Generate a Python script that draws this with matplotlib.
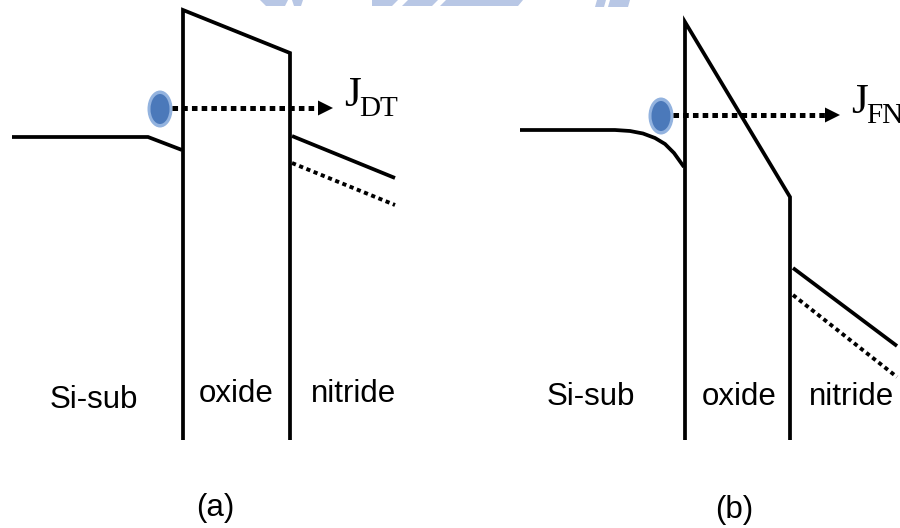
import matplotlib
matplotlib.use("Agg")
import matplotlib.pyplot as plt
from matplotlib import font_manager
from matplotlib.patches import Ellipse, Polygon

# ---- panel (a): direct tunnelling (pixel coords, y down) ----
a_si_x = [12, 148, 182]
a_si_y = [137, 137, 150]
a_ox_x = [183, 183, 290, 290]
a_ox_y = [440, 10, 53, 440]
a_cb_x = [292, 395]
a_cb_y = [136, 178]
a_dot_x = [292, 395]
a_dot_y = [163, 205]
a_electron = (160, 109)
a_arrow_x = [172, 333]
a_arrow_y = 108
a_current = ("J", "DT")

# ---- panel (b): Fowler-Nordheim tunnelling ----
b_si_x = [520, 615, 630, 643, 655, 665, 674, 684]
b_si_y = [130, 130, 131, 133.5, 138, 144, 153, 167]
b_ox_x = [685, 685, 790, 790]
b_ox_y = [440, 22, 197, 440]
b_cb_x = [793, 897]
b_cb_y = [268, 346]
b_dot_x = [793, 897]
b_dot_y = [295, 377]
b_electron = (661, 116)
b_arrow_x = [673, 840]
b_arrow_y = 115
b_current = ("J", "FN")

region_names = ["Si-sub", "oxide", "nitride"]
a_label_x = [94, 236, 354]
a_label_y = [408, 402, 402]
b_label_x = [591, 739, 852]
b_label_y = [405, 405, 405]
panel_tags = ["(a)", "(b)"]
tag_x = [215, 734]
tag_y = [516, 518]

# pick a narrow sans if there is one
names = {f.name for f in font_manager.fontManager.ttflist}
if "Liberation Sans Narrow" in names:
    sans, sans_size = "Liberation Sans Narrow", 25
else:
    sans, sans_size = "Liberation Sans", 22.5
serif = "Liberation Serif"

LW = 2.7
fig = plt.figure(figsize=(9, 5.28), dpi=100)
ax = fig.add_axes([0, 0, 1, 1])
ax.set_xlim(0, 900)
ax.set_ylim(528, 0)
ax.axis("off")

# faint watermark remnants at the top edge
wm = "#b8c7e5"
for pts in [[(260, 0), (288, 0), (285, 6), (266, 6)],
            [(292, 0), (303, 0), (301, 6), (294, 6)],
            [(372, 0), (398, 0), (392, 6), (372, 6)],
            [(408, 0), (438, 0), (432, 6), (402, 6)],
            [(446, 0), (523, 0), (518, 6), (440, 6)],
            [(597, 0), (606, 0), (604, 7), (595, 7)],
            [(610, 0), (630, 0), (628, 7), (608, 7)]]:
    ax.add_patch(Polygon(pts, closed=True, color=wm, lw=0))


def band(ax, si_x, si_y, ox_x, ox_y, cb_x, cb_y, dot_x, dot_y):
    kw = dict(color="black", lw=LW, solid_joinstyle="miter", solid_capstyle="butt")
    ax.plot(si_x, si_y, **kw)
    ax.plot(ox_x, ox_y, **kw)
    ax.plot(cb_x, cb_y, **kw)
    ax.plot(dot_x, dot_y, color="black", lw=2.8,
            linestyle=(0, (3.0 / 2.8, 2.6 / 2.8)), dash_capstyle="butt")


def tunnel(ax, e, arrow_x, arrow_y, cur):
    ax.add_patch(Ellipse(e, 25, 37, color="#93b3df", lw=0, zorder=3))
    ax.add_patch(Ellipse(e, 19, 30, color="#4b79ba", lw=0, zorder=4))
    head = 15
    ax.plot([arrow_x[0], arrow_x[1] - head], [arrow_y, arrow_y], color="black",
            lw=3.6, linestyle=(0, (4.0 / 3.6, 3.0 / 3.6)), dash_capstyle="butt",
            zorder=5)
    tip = arrow_x[1]
    ax.add_patch(Polygon([(tip, arrow_y), (tip - head, arrow_y - 7.5),
                          (tip - head, arrow_y + 7.5)], closed=True,
                         color="black", lw=0, zorder=5))
    # J with its subscript
    ax.text(tip + 11, arrow_y - 2, cur[0], family=serif, fontsize=31,
            va="baseline", ha="left")
    ax.text(tip + 26, arrow_y + 8, cur[1], family=serif, fontsize=21,
            va="baseline", ha="left")


band(ax, a_si_x, a_si_y, a_ox_x, a_ox_y, a_cb_x, a_cb_y, a_dot_x, a_dot_y)
band(ax, b_si_x, b_si_y, b_ox_x, b_ox_y, b_cb_x, b_cb_y, b_dot_x, b_dot_y)
tunnel(ax, a_electron, a_arrow_x, a_arrow_y, a_current)
tunnel(ax, b_electron, b_arrow_x, b_arrow_y, b_current)

for xs, ys in [(a_label_x, a_label_y), (b_label_x, b_label_y)]:
    for name, x, y in zip(region_names, xs, ys):
        ax.text(x, y, name, family=sans, fontsize=sans_size,
                ha="center", va="baseline")
for tag, x, y in zip(panel_tags, tag_x, tag_y):
    ax.text(x, y, tag, family=sans, fontsize=sans_size, ha="center", va="baseline")

fig.savefig("out.png", dpi=100)
